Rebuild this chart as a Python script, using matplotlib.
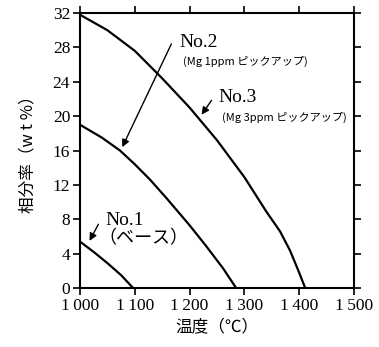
import matplotlib.pyplot as plt

plt.rcParams['font.family'] = ['Liberation Serif', 'DejaVu Serif']
jp = ['Noto Sans CJK JP', 'DejaVu Sans']

# curve values (temperature degC, phase fraction wt%)
no1_t = [1000, 1025, 1050, 1075, 1097]
no1_v = [5.4, 4.2, 2.9, 1.5, 0.0]

no2_t = [1000, 1040, 1073, 1100, 1128, 1160, 1200, 1230, 1261, 1285]
no2_v = [19.0, 17.5, 16.0, 14.4, 12.6, 10.3, 7.3, 4.9, 2.3, 0.0]

no3_t = [1000, 1050, 1100, 1150, 1200, 1250, 1300, 1340, 1365, 1383, 1398, 1411]
no3_v = [31.8, 30.0, 27.6, 24.4, 21.0, 17.2, 12.9, 8.9, 6.6, 4.4, 2.1, 0.0]

x_ticks = [1000, 1100, 1200, 1300, 1400, 1500]
x_labels = ['1\u2009000', '1\u2009100', '1\u2009200', '1\u2009300', '1\u2009400', '1\u2009500']
y_ticks = [0, 4, 8, 12, 16, 20, 24, 28, 32]

fig = plt.figure(figsize=(3.79, 3.47), dpi=100)
ax = fig.add_axes([0.211, 0.170, 0.723, 0.7925])

for t, v in [(no1_t, no1_v), (no2_t, no2_v), (no3_t, no3_v)]:
    ax.plot(t, v, color='black', lw=1.6)

ax.set_xlim(1000, 1500)
ax.set_ylim(0, 32)
ax.set_xticks(x_ticks)
ax.set_xticklabels(x_labels)
ax.set_yticks(y_ticks)
ax.tick_params(direction='out', length=5, width=1.2, labelsize=12.5,
               top=True, right=True, pad=2)
for s in ax.spines.values():
    s.set_linewidth(1.5)

ax.set_xlabel('温度（℃）', family=jp, fontsize=12, labelpad=4)
ax.set_ylabel('相分率（w t %）', family=jp, fontsize=12, labelpad=12)

arrow = dict(arrowstyle='-|>', color='black', lw=1.0, mutation_scale=11)

ax.annotate('', xy=(1075, 16.1), xytext=(1169, 28.7), arrowprops=arrow)
ax.text(1182, 28.6, 'No.2', fontsize=14, va='center')
ax.text(1188, 26.4, '(Mg 1ppm ピックアップ)', family=jp, fontsize=8, va='center')

ax.annotate('', xy=(1219, 19.9), xytext=(1243, 22.1), arrowprops=arrow)
ax.text(1252, 22.2, 'No.3', fontsize=14, va='center')
ax.text(1259, 19.9, '(Mg 3ppm ピックアップ)', family=jp, fontsize=8, va='center')

ax.annotate('', xy=(1015, 5.2), xytext=(1036, 7.7), arrowprops=arrow)
ax.text(1046, 7.9, 'No.1', fontsize=14, va='center')
ax.text(1033, 5.8, '（ベース）', family=jp, fontsize=13, va='center')

fig.savefig('out.png', dpi=100)
